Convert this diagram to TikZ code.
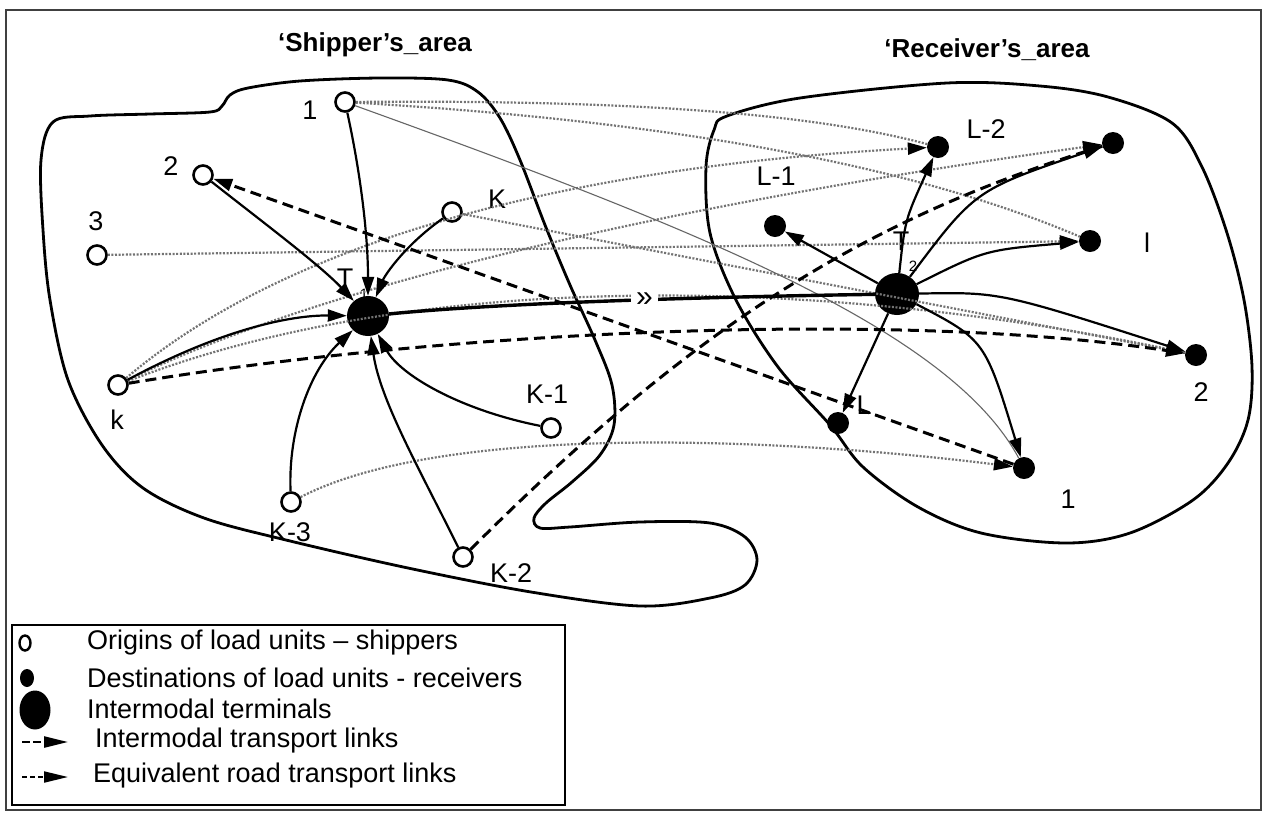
\documentclass[tikz,border=0pt]{standalone}
\usepackage{fontspec}
\setmainfont{Liberation Sans}
\usetikzlibrary{arrows.meta,shapes.geometric}
\begin{document}
\begin{tikzpicture}[x=1pt,y=-1pt,
  orig/.style={circle,draw,line width=2.6pt,fill=white,minimum size=19pt,inner sep=0pt},
  dest/.style={circle,fill=black,minimum size=22pt,inner sep=0pt},
  term/.style={ellipse,fill=black,minimum width=42pt,minimum height=40pt,inner sep=0pt},
  lbl/.style={font=\fontsize{27}{27}\selectfont,inner sep=0pt},
  sub/.style={font=\fontsize{15}{15}\selectfont,inner sep=0pt},
  ttl/.style={font=\fontsize{26}{26}\selectfont\bfseries,inner sep=0pt},
  bigtri/.tip={Triangle[length=19pt,width=12pt]},
  blacktri/.tip={Triangle[length=19pt,width=12pt,color=black]},
  im/.style={line width=2.2pt,-bigtri},
  road/.style={line width=3pt,dash pattern=on 11pt off 6pt},
  dotl/.style={line width=2.2pt,black!55,dash pattern=on 2pt off 1.6pt},
  thinl/.style={line width=1.1pt,black!60},
  bound/.style={line width=2.8pt,line join=round},
  legtext/.style={font=\fontsize{27}{27}\selectfont,inner sep=0pt,anchor=west}
]
\useasboundingbox (0,0) rectangle (1265,815);
\fill[white] (0,0) rectangle (1265,815);
\draw[line width=1.8pt,black!75] (6,10) rectangle (1261,810);

% titles
\node[ttl] (tshipper) at (375,45) {‘Shipper’s\_area};
\node[ttl] (treceiver) at (987,50) {‘Receiver’s\_area};

% areas
\draw[bound] plot[smooth cycle,tension=0.55] coordinates {
 (53,122) (90,116) (150,114) (210,112) (222,106) (230,95) (248,88) (300,81)
 (380,78) (448,80) (478,92) (500,118) (520,160) (545,225) (570,285) (595,340)
 (612,385) (614,425) (600,455) (572,482) (546,503) (534,518) (540,528) (570,527)
 (640,522) (710,523) (745,537) (757,560) (745,585) (710,598) (640,606) (531,592)
 (408,568) (286,540) (204,518) (143,488) (102,445) (68,380) (50,300) (43,230) (41,160)};
\draw[bound] plot[smooth cycle,tension=0.55] coordinates {
 (727,116) (800,98) (947,83) (1040,86) (1108,97) (1172,123) (1202,167) (1227,233)
 (1244,300) (1252,367) (1248,420) (1228,463) (1193,500) (1130,533) (1066,543)
 (981,533) (918,507) (863,467) (830,425) (778,367) (736,300) (710,233) (706,167) (714,130)};

% shipper nodes
\node[orig] (o1) at (345,102) {};
\node[orig] (o2) at (203,175) {};
\node[orig] (o3) at (97,255) {};
\node[orig] (oK) at (452,212) {};
\node[orig] (ok) at (118,385) {};
\node[orig] (oK1) at (551,428) {};
\node[orig] (oK3) at (291,502) {};
\node[orig] (oK2) at (463,557) {};
\node[term] (T1) at (368,316) {};

% receiver nodes
\node[dest] (rL2) at (938,147) {};
\node[dest] (rTR) at (1113,143) {};
\node[dest] (rL1) at (775,226) {};
\node[dest] (rl) at (1090,241) {};
\node[dest] (r2) at (1196,355) {};
\node[dest] (rL) at (838,423) {};
\node[dest] (r1) at (1024,468) {};
\node[term,minimum width=44pt,minimum height=42pt] (T2) at (897,294) {};

% labels
\node[lbl] (lab1) at (310,110) {1};
\node[lbl] (lab2) at (171,166) {2};
\node[lbl] (lab3) at (96,221) {3};
\node[lbl] (labK) at (497,199) {K};
\node[lbl] (labT1) at (345,278) {T};
\node[sub] (labT1s) at (364,294) {1};
\node[lbl] (labk) at (117,420) {k};
\node[lbl] (labK1) at (547,394) {K-1};
\node[lbl] (labK3) at (290,532) {K-3};
\node[lbl] (labK2) at (511,573) {K-2};
\node[lbl] (labL2) at (986,129) {L-2};
\node[lbl] (labL1) at (776,176) {L-1};
\node[lbl] (labl) at (1147,243) {l};
\node[lbl] (lab2r) at (1201,392) {2};
\node[lbl] (labL) at (864,405) {L};
\node[lbl] (lab1r) at (1068,499) {1};
\node[lbl] (labT2) at (901,241) {T};
\node[sub] (labT2s) at (913,266) {2};

% dotted road-equivalent paths
\draw[dotl] (o1) .. controls (600,100) and (800,110) .. (rL2);
\draw[dotl] (o1) .. controls (650,120) and (900,160) .. (rl);
\draw[dotl,-blacktri] (o3) -- (rl);
\draw[dotl,-blacktri] (ok) .. controls (300,230) and (600,165) .. (rL2);
\draw[dotl,-blacktri] (ok) .. controls (330,280) and (700,200) .. (rTR);
\draw[dotl] (ok) .. controls (400,275) and (800,270) .. (r2);
\draw[dotl] (oK) -- (r2);
\draw[dotl,-blacktri] (oK3) .. controls (450,420) and (800,440) .. (r1);
\draw[thinl] (o1) .. controls (700,230) and (950,330) .. (r1);

% dashed road links
\draw[road,-bigtri] (r1) -- (o2);
\draw[road,-bigtri] (ok) .. controls (450,330) and (900,310) .. (r2);
\draw[road] (oK2) .. controls (690,330) and (860,220) .. (rTR);

% intermodal links to T1
\draw[im] (o1) .. controls (362,180) and (368,240) .. (T1);
\draw[im] (o2) .. controls (260,220) and (320,265) .. (T1);
\draw[im] (oK) .. controls (405,245) and (385,275) .. (T1);
\draw[im] (ok) .. controls (220,330) and (290,315) .. (T1);
\draw[im] (oK3) .. controls (288,430) and (310,370) .. (T1);
\draw[im] (oK2) .. controls (420,470) and (380,400) .. (T1);
\draw[im] (oK1) .. controls (460,410) and (400,375) .. (T1);

% main haul
\draw[line width=3.4pt] (T1) .. controls (500,303) and (700,297) .. node[pos=0.57,fill=white,inner sep=5pt,font=\fontsize{30}{30}\selectfont] (chev) {»} (T2);

% from T2
\draw[im] (T2) .. controls (905,220) .. (rL2);
\draw[im] (T2) .. controls (975,190) .. (rTR);
\draw[im] (T2) .. controls (985,250) .. (rl);
\draw[im] (T2) -- (rL1);
\draw[im] (T2) .. controls (1000,292) .. (r2);
\draw[im] (T2) -- (rL);
\draw[im] (T2) .. controls (985,340) .. (r1);

% legend
\draw[line width=2.4pt] (12,625) rectangle (565,805);
\node[ellipse,draw,line width=2.4pt,minimum width=11pt,minimum height=15pt,inner sep=0pt] (legO) at (25,643) {};
\node[ellipse,fill=black,minimum width=14pt,minimum height=18pt,inner sep=0pt] (legD) at (27,678) {};
\node[ellipse,fill=black,minimum width=31pt,minimum height=39pt,inner sep=0pt] (legT) at (35,710) {};
\coordinate (a1s) at (22,742);
\coordinate (a1e) at (68,742);
\coordinate (a2s) at (22,777);
\coordinate (a2e) at (68,777);
\draw[line width=2.4pt,dash pattern=on 8pt off 3pt,-{Triangle[length=24pt,width=11pt]}] (a1s) -- (a1e);
\draw[line width=2pt,dash pattern=on 5pt off 3pt,-{Triangle[length=24pt,width=11pt]}] (a2s) -- (a2e);
\node[legtext] (leg1) at (87,643) {Origins of load units -- shippers};
\node[legtext] (leg2) at (87,678) {Destinations of load units - receivers};
\node[legtext] (leg3) at (87,709) {Intermodal terminals};
\node[legtext] (leg4) at (95,741) {Intermodal transport links};
\node[legtext] (leg5) at (93,776) {Equivalent road transport links};
\end{tikzpicture}
\end{document}
